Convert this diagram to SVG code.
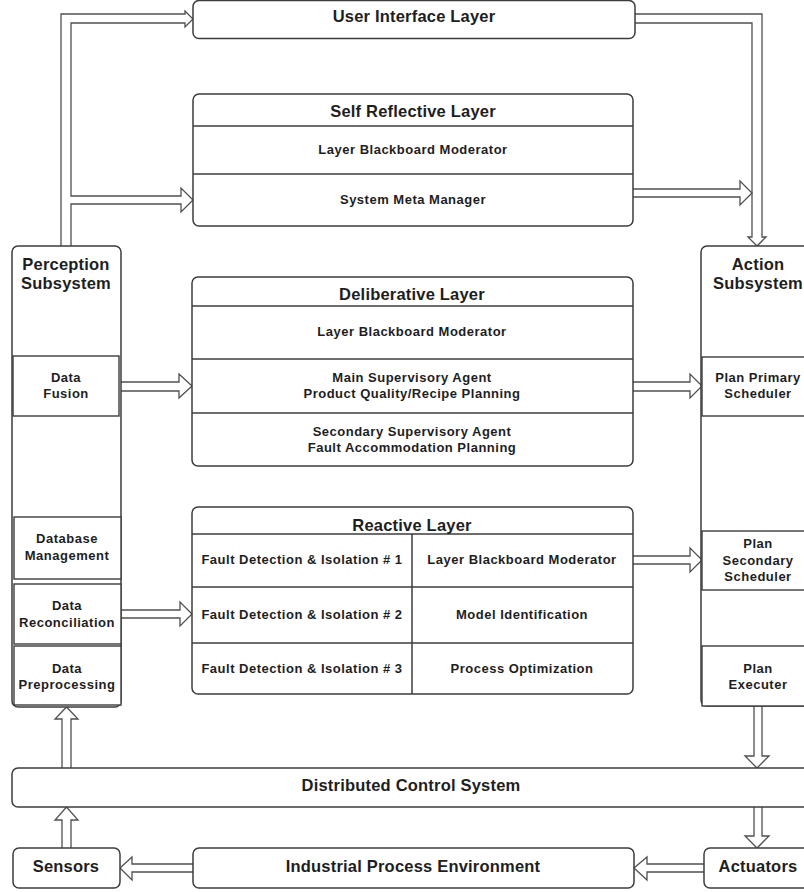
<svg xmlns="http://www.w3.org/2000/svg" width="804" height="892" viewBox="0 0 804 892">
<style>
.box{fill:#fff;stroke:#3c3c3c;stroke-width:1.5}
.sub{fill:#fff;stroke:#3c3c3c;stroke-width:1.4}
.ln{stroke:#3c3c3c;stroke-width:1.5;fill:none}
.conn{fill:#fff;stroke:#505050;stroke-width:1.3;stroke-linejoin:miter}
text{font-family:"Liberation Sans",Arial,sans-serif;font-weight:bold;fill:#1e1e1e;text-anchor:middle}
.t{font-size:16.5px;letter-spacing:0.2px}
.s{font-size:13px;letter-spacing:0.5px}
</style>
<rect width="804" height="892" fill="#fff"/>
<g id="connectors">
<path class="conn" d="M61,246 V14 H185 V11 L193,19 L185,27 V23 H71 V196 H181 V188 L193,200 L181,212 V204 H71 V246"/>
<path class="conn" d="M635,14 H762 V237 H766 L757,246 L748,237 H752 V23 H635"/>
<path class="conn" d="M633,189 H740 V181 L752,193 L740,205 V197 H633"/>
<path class="conn" d="M121,382 H179 V374 L192,386 L179,398 V391 H121"/>
<path class="conn" d="M633,382 H690 V374 L702,386 L690,398 V391 H633"/>
<path class="conn" d="M121,610 H180 V602 L192,614 L180,626 V618 H121"/>
<path class="conn" d="M633,556 H690 V548 L702,560 L690,572 V564 H633"/>
<path class="conn" d="M754,706 V756 H745 L757,768 L769,756 H762 V706"/>
<path class="conn" d="M754,807 V836 H745 L757,848 L769,836 H762 V807"/>
<path class="conn" d="M704,864 H647 V857 L634,868 L647,880 V872 H704"/>
<path class="conn" d="M193,864 H132 V857 L120,868 L132,880 V872 H193"/>
<path class="conn" d="M62,848 V820 H55 L66.5,807 L78,820 H71 V848"/>
<path class="conn" d="M62,768 V719 H55 L66.5,707 L78,719 H71 V768"/>
</g>
<g id="user-interface-layer">
<rect class="box" x="193" y="0.5" width="442" height="38" rx="6"/>
<text class="t" x="414" y="22">User Interface Layer</text>
</g>
<g id="self-reflective-layer">
<rect class="box" x="193" y="94" width="440" height="132" rx="6"/>
<line class="ln" x1="193" y1="126" x2="633" y2="126"/>
<line class="ln" x1="193" y1="174" x2="633" y2="174"/>
<text class="t" x="413" y="117">Self Reflective Layer</text>
<text class="s" x="413" y="154">Layer Blackboard Moderator</text>
<text class="s" x="413" y="204">System Meta Manager</text>
</g>
<g id="deliberative-layer">
<rect class="box" x="192" y="277" width="441" height="189" rx="6"/>
<line class="ln" x1="192" y1="306" x2="633" y2="306"/>
<line class="ln" x1="192" y1="359" x2="633" y2="359"/>
<line class="ln" x1="192" y1="413" x2="633" y2="413"/>
<text class="t" x="412" y="300">Deliberative Layer</text>
<text class="s" x="412" y="336">Layer Blackboard Moderator</text>
<text class="s" x="412" y="382">Main Supervisory Agent</text>
<text class="s" x="412" y="398">Product Quality/Recipe Planning</text>
<text class="s" x="412" y="436">Secondary Supervisory Agent</text>
<text class="s" x="412" y="452">Fault Accommodation Planning</text>
</g>
<g id="reactive-layer">
<rect class="box" x="192" y="507" width="441" height="187" rx="6"/>
<line class="ln" x1="192" y1="534" x2="633" y2="534"/>
<line class="ln" x1="192" y1="587" x2="633" y2="587"/>
<line class="ln" x1="192" y1="643" x2="633" y2="643"/>
<line class="ln" x1="412" y1="534" x2="412" y2="694"/>
<text class="t" x="412" y="531">Reactive Layer</text>
<text class="s" x="302" y="564">Fault Detection &amp; Isolation # 1</text>
<text class="s" x="522" y="564">Layer Blackboard Moderator</text>
<text class="s" x="302" y="619">Fault Detection &amp; Isolation # 2</text>
<text class="s" x="522" y="619">Model Identification</text>
<text class="s" x="302" y="673">Fault Detection &amp; Isolation # 3</text>
<text class="s" x="522" y="673">Process Optimization</text>
</g>
<g id="perception-subsystem">
<rect class="box" x="12" y="246" width="109" height="461" rx="6"/>
<text class="t" x="66" y="270">Perception</text>
<text class="t" x="66" y="289">Subsystem</text>
</g>
<g id="data-fusion">
<rect class="sub" x="13" y="356" width="106" height="60"/>
<text class="s" x="66" y="382">Data</text>
<text class="s" x="66" y="398">Fusion</text>
</g>
<g id="database-management">
<rect class="sub" x="14" y="517" width="107" height="62"/>
<text class="s" x="67" y="543">Database</text>
<text class="s" x="67" y="560">Management</text>
</g>
<g id="data-reconciliation">
<rect class="sub" x="14" y="584" width="107" height="60"/>
<text class="s" x="67" y="610">Data</text>
<text class="s" x="67" y="627">Reconciliation</text>
</g>
<g id="data-preprocessing">
<rect class="sub" x="14" y="646" width="107" height="59"/>
<text class="s" x="67" y="673">Data</text>
<text class="s" x="67" y="689">Preprocessing</text>
</g>
<g id="action-subsystem">
<rect class="box" x="701" y="246" width="112" height="460" rx="6"/>
<text class="t" x="758" y="270">Action</text>
<text class="t" x="758" y="289">Subsystem</text>
</g>
<g id="plan-primary-scheduler">
<rect class="sub" x="702" y="357" width="110" height="59"/>
<text class="s" x="758" y="382">Plan Primary</text>
<text class="s" x="758" y="398">Scheduler</text>
</g>
<g id="plan-secondary-scheduler">
<rect class="sub" x="702" y="531" width="110" height="59"/>
<text class="s" x="758" y="548">Plan</text>
<text class="s" x="758" y="565">Secondary</text>
<text class="s" x="758" y="581">Scheduler</text>
</g>
<g id="plan-executer">
<rect class="sub" x="702" y="646" width="110" height="60"/>
<text class="s" x="758" y="673">Plan</text>
<text class="s" x="758" y="689">Executer</text>
</g>
<g id="distributed-control-system">
<rect class="box" x="12" y="768" width="800" height="39" rx="6"/>
<text class="t" x="411" y="791">Distributed Control System</text>
</g>
<g id="sensors">
<rect class="box" x="13" y="848" width="107" height="40" rx="6"/>
<text class="t" x="66" y="872">Sensors</text>
</g>
<g id="industrial-process-environment">
<rect class="box" x="193" y="848" width="441" height="40" rx="6"/>
<text class="t" x="413" y="872">Industrial Process Environment</text>
</g>
<g id="actuators">
<rect class="box" x="704" y="848" width="110" height="40" rx="6"/>
<text class="t" x="758" y="872">Actuators</text>
</g>
</svg>
